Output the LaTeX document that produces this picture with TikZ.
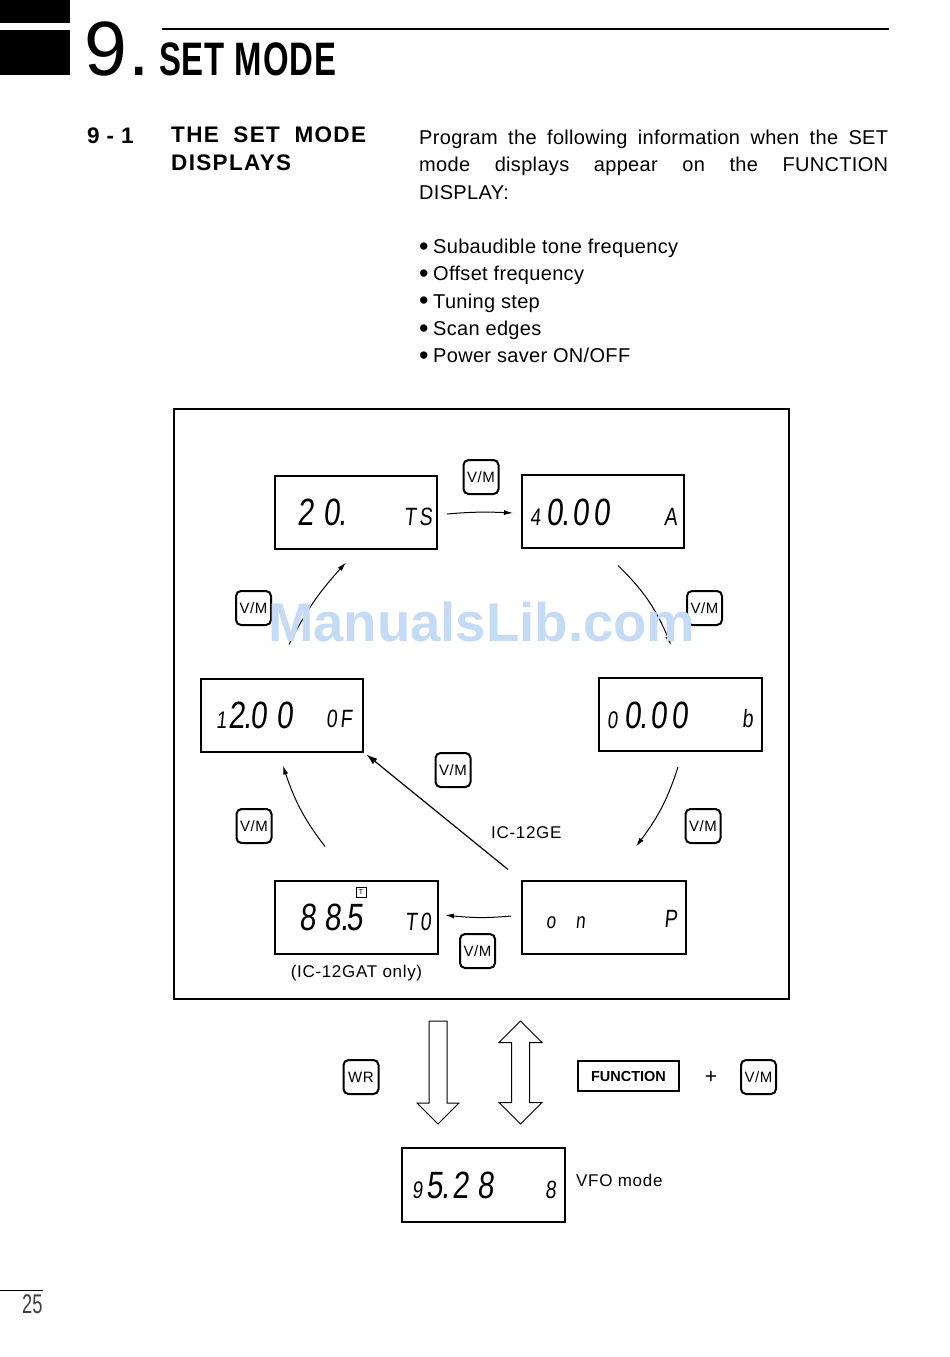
\documentclass[tikz,border=0pt]{standalone}
\usepackage{fontspec}
\setmainfont{Liberation Sans}
\newfontfamily\bodyfont[LetterSpace=1.6]{Liberation Sans}
\newfontfamily\labelfont[LetterSpace=4]{Liberation Sans}
\newfontfamily\secfont[LetterSpace=6]{Liberation Sans}
\newfontfamily\headfont[FakeStretch=0.7,LetterSpace=1.8]{Liberation Sans}
\newfontfamily\lcdfont[FakeStretch=0.78,FakeSlant=0.1,LetterSpace=12]{Liberation Sans}
\newfontfamily\pagefont[FakeStretch=0.68]{Liberation Sans}
\usetikzlibrary{positioning,arrows.meta,bending,shapes.arrows}
\newcommand{\lcddot}{\kern-1pt.\kern2.3pt}
\newcommand{\lcdsmall}[1]{{\fontsize{24}{24}\selectfont #1}}
\newcommand{\itembullet}{\makebox[14pt][l]{\raisebox{-1.5pt}{\fontsize{27}{27}\selectfont\textbullet}}}
\tikzset{
display/.style={
draw,
line width=2pt,
minimum width=162pt,minimum height=73pt,inner sep=0pt,outer sep=0pt},
readout/.style={inner sep=0pt,anchor=base west,font={\lcdfont\fontsize{38}{38}\selectfont}},
tagtext/.style={inner sep=0pt,anchor=base west,font={\lcdfont\fontsize{25}{25}\selectfont}},
keycap/.style={
draw,
line width=2pt,rounded corners=5pt,
minimum width=35pt,minimum height=34pt,inner sep=0pt,font={\labelfont\fontsize{15}{15}\selectfont}},
line/.style={-{Latex[length=9pt,width=5pt,bend]},line width=1pt},
label/.style={inner sep=0pt,font={\labelfont\fontsize{17}{17}\selectfont}},
hollow/.style={draw,line width=1pt,inner sep=8.5pt,outer sep=0pt,minimum height=103pt}
}

\begin{document}
\begin{tikzpicture}[x=1pt,y=-1pt]
  \useasboundingbox (0,0) rectangle (950,1357);
  \node[fill=black,minimum width=70pt,minimum height=23pt,inner sep=0pt,anchor=north west] (bartop) at (0,0) {};
  \node[fill=black,minimum width=70pt,minimum height=45pt,inner sep=0pt,below=6pt of bartop.south west,anchor=north west] (barlow) {};
  \node[inner sep=0pt,anchor=base west,font={\fontsize{77}{77}\selectfont}] (chapter) at (84,75) {9};
  \node[inner sep=0pt,anchor=base west,font={\fontsize{77}{77}\selectfont}] (chapterdot) at (128,75) {.};
  \node[inner sep=0pt,anchor=base west,font={\headfont\bfseries\fontsize{47}{47}\selectfont}] (chaptername) at (159,75.5) {SET MODE};
  \coordinate (rulestart) at (162,29);
  \coordinate (ruleend) at (889,29);
  \draw[line width=2.4pt] (rulestart)-- (ruleend);
  \node[inner sep=0pt,anchor=base west,font={\secfont\bfseries\fontsize{22.5}{22.5}\selectfont}] (secnum) at (87,143) {9\kern7pt-\kern7pt1};
  \node[inner sep=0pt,anchor=north west,align=left,font={\secfont\bfseries\fontsize{22.5}{27.3}\selectfont}] (sectitle) at (171,127) {THE\hspace{7pt} SET\hspace{7pt} MODE\\DISPLAYS};
  \node[inner sep=0pt,anchor=north west,text width=469pt,align=justify,font={\bodyfont\fontsize{20}{27.3}\selectfont}] (intro) at (419,130) {Program the following information when the SET\linebreak mode displays appear on the FUNCTION\linebreak DISPLAY:};
  \node[inner sep=0pt,anchor=north west,align=left,font={\bodyfont\fontsize{20}{27.3}\selectfont}] (items) at (419,239) {%
    \itembullet Subaudible tone frequency\\
    \itembullet Offset frequency\\
    \itembullet Tuning step\\
    \itembullet Scan edges\\
    \itembullet Power saver ON/OFF};

  \node[draw,line width=1.1pt,minimum width=615pt,minimum height=590pt,inner sep=0pt] (panel) at (481.5,704) {};
  \node[display] (ts) at (356,512) {};
  \node[display, right=85pt of ts, yshift=1pt] (a) {};
  \node[display, minimum width=163pt] (b) at (680.5,714.5) {};
  \node[display] (of) at (281.5,715) {};
  \node[display, minimum width=163pt] (to) at (356.5,917) {};
  \node[display, minimum width=164pt, right=84pt of to] (p) {};
  \node[display, minimum width=163pt, minimum height=74pt] (vfo) at (483.5,1185) {};

  \node[readout] (tsval) at (297,525) {2\kern9.5pt0\lcddot};
  \node[tagtext] (tstag) at (404,525) {TS};
  \node[readout] (aval) at (530,525) {\lcdsmall{4}\kern5.6pt0\lcddot00};
  \node[tagtext] (atag) at (664,525) {A};
  \node[readout] (bval) at (607,728) {\lcdsmall{0}\kern6.6pt0\lcddot00};
  \node[tagtext] (btag) at (742,727) {b};
  \node[readout] (ofval) at (216,728) {\lcdsmall{1}\kern1.5pt2\lcddot\kern-4pt0\kern9.5pt0};
  \node[tagtext] (oftag) at (326,727) {0F};
  \node[readout] (toval) at (299,930) {8\kern9pt8\lcddot\kern-4pt5};
  \node[tagtext] (totag) at (405,930) {T0};
  \node[tagtext,font={\lcdfont\fontsize{22}{22}\selectfont}] (pval) at (546,928) {o\kern20pt n};
  \node[tagtext] (ptag) at (664,927) {P};
  \node[readout] (vfoval) at (412,1198) {\lcdsmall{9}\kern3.6pt5\lcddot2\kern9pt8};
  \node[tagtext] (vfotag) at (545,1198) {8};
  \node[draw,line width=0.6pt,minimum size=10pt,inner sep=0pt,font={\fontsize{7}{7}\selectfont}] (totone) at (361,892) {T};

  \node[keycap] (vmtop) at (481,477) {V/M};
  \node[keycap] (vmleft) at (253.5,608) {V/M};
  \node[keycap] (vmright) at (704.5,608) {V/M};
  \node[keycap] (vmmid) at (453,770) {V/M};
  \node[keycap] (vmlow) at (254,826) {V/M};
  \node[keycap] (vmside) at (703,826) {V/M};
  \node[keycap] (vmbase) at (477.5,951) {V/M};
  \node[keycap] (vmcombo) at (758.5,1077) {V/M};
  \node[keycap] (wr) at (361,1077) {WR};

  \draw[line] ([xshift=10pt,yshift=-2pt] ts.east) to[bend left=4] ([xshift=-9pt,yshift=-2pt] a.west);
  \draw[line] ([xshift=15pt,yshift=-18pt] a.south) to[bend left=12] ([xshift=-9.5pt,yshift=33pt] b.north);
  \draw[line] ([xshift=-2.5pt,yshift=-16pt] b.south) to[bend left=10] ([xshift=32pt,yshift=34pt] p.north);
  \draw[line] ([xshift=-11pt,yshift=1pt] p.west) to[bend left=6] ([xshift=7pt,yshift=2pt] to.east);
  \draw[line] ([xshift=-31.5pt,yshift=34pt] to.north) to[bend left=10] ([xshift=1.5pt,yshift=-14pt] of.south);
  \draw[line] ([xshift=7.5pt,yshift=34pt] of.north) to[bend left=8] ([xshift=-10pt,yshift=-14pt] ts.south);
  \draw[line,line width=1.2pt,-{Latex[length=11pt,width=7pt]}] ([xshift=-14pt,yshift=11pt] p.north west)-- ([xshift=4pt,yshift=-3pt] of.south east);
  \node[label,anchor=base west] (gelabel) at (491,838) {IC-12GE};
  \node[label,below=11pt of to] (gatlabel) {(IC-12GAT only)};

  \node[hollow,single arrow,shape border rotate=270,minimum width=42pt,single arrow head extend=12pt] (writearrow) at (438,1068) {};
  \node[hollow,double arrow,shape border rotate=90,minimum width=42pt,double arrow head extend=12.5pt] (recallarrow) at (520.5,1072.5) {};
  \node[draw,line width=2pt,minimum width=101pt,minimum height=30pt,inner sep=0pt,font={\bfseries\fontsize{14.5}{14.5}\selectfont}] (function) at (628.5,1076) {FUNCTION};
  \node[inner sep=0pt,font={\fontsize{21}{21}\selectfont}] (plus) at (711,1077) {+};
  \node[label,right=11pt of vfo,yshift=5pt] (vfolabel) {VFO mode};

  \coordinate (pagestart) at (0,1290);
  \coordinate (pageend) at (43,1290);
  \draw[line width=0.5pt] (pagestart)-- (pageend);
  \node[inner sep=0pt,anchor=base west,text=black!75,font={\pagefont\fontsize{27}{27}\selectfont}] (pagenum) at (22,1313) {25};

  \node[inner sep=0pt,anchor=base west,text={rgb,255:red,197;green,218;blue,245},font={\bfseries\fontsize{54.5}{54.5}\selectfont}] (watermark) at (268,641) {ManualsLib.com};
\end{tikzpicture}
\end{document}
